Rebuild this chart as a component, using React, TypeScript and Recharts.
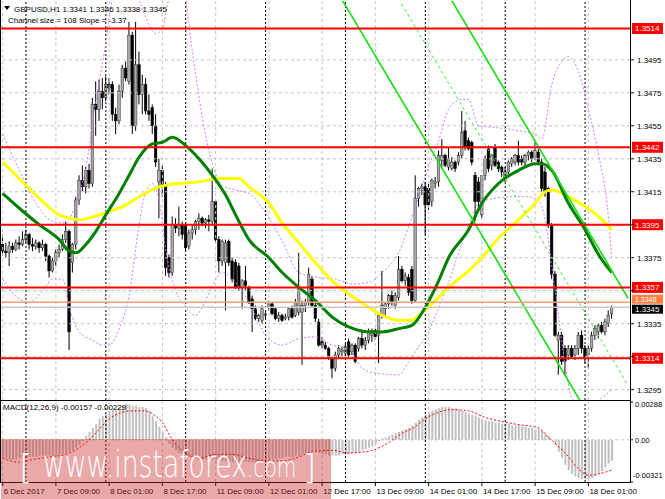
import React from 'react';
import { ComposedChart, Bar, Line, XAxis, YAxis, ReferenceLine } from 'recharts';

// ---- values (pips above 1.3300) ----
const BASE = 1.33;
const PIP = 0.0001;

const opens = [
  83,79,78,82,80,84,83,86,89,83, 82,84,81,83,76,67,73,78,80,86,
  91,72,83,110,122,118,128,120,168,165, 176,172,180,180,162,158,176,190,182,210,
  155,192,174,180,164,166,155,121,128,119, 75,66,95,93,95,95,82,90,92,97,
  99,96,98,97,109,86,73,72,85,73, 72,70,57,61,57,50,44,38,37,40,
  45,47,44,38,40,38,39,44,40,42, 42,46,48,62,46,36,24,22,20,14,
  8,16,18,17,24,18,22,20,26,22, 25,28,31,28,40,44,47,52,46,51,
  68,61,63,68,49,111,117,118,117,109, 120,121,134,137,130,129,133,133,137,152,
  146,145,125,121,101,125,141,131,142,133, 130,123,127,132,133,137,135,133,137,139,
  136,139,133,127,117,95,65,25,28,20, 16,20,16,20,28,20,16,20,28,30,
  34,30,35,41,
];
const highs = [
  89,84,85,84,86,88,91,92,90,87, 86,85,86,84,77,75,80,83,89,97,
  92,84,112,125,131,130,132,172,182,183, 184,185,184,182,166,180,192,194,218,212,
  218,200,186,184,174,168,162,135,131,121, 77,100,99,106,97,96,92,95,98,102,
  100,99,101,129,110,88,86,86,86,75, 74,72,62,70,58,52,46,41,46,42,
  49,48,45,42,41,41,45,46,50,78, 49,50,69,64,48,38,27,24,21,15,
  18,22,21,23,26,23,23,27,30,27, 32,32,32,41,67,48,53,55,54,76,
  70,66,65,70,125,118,120,121,120,123, 124,140,147,138,142,136,134,139,164,158,
  148,146,127,124,124,137,143,138,144,134, 131,130,134,136,138,146,137,138,140,140,
  145,141,135,130,118,96,67,30,30,22, 22,22,22,30,31,22,22,30,34,35,
  36,38,43,46,
];
const lows = [
  76,75,70,78,79,80,82,84,80,79, 80,78,79,73,63,66,70,75,79,84,
  19,66,80,107,115,114,117,118,149,158, 165,170,174,158,150,156,172,182,180,150,
  152,168,162,162,158,150,130,99,112,64, 63,64,90,88,86,79,80,86,89,92,
  94,93,91,95,84,66,70,43,70,60, 56,55,44,55,47,30,37,36,35,38,
  43,40,37,36,36,37,37,38,39,40, 10,42,46,45,36,21,20,19,13,2,
  6,14,15,15,15,16,11,18,20,19, 23,24,25,11,38,40,44,46,44,49,
  60,58,52,47,48,106,113,89,104,106, 117,118,130,130,128,128,127,131,135,140,
  140,131,97,104,99,122,127,128,130,127, 124,121,125,130,131,131,131,131,134,133,
  134,131,115,112,93,62,27,4,10,4, 13,14,13,16,17,11,8,18,25,26,
  29,28,33,38,
];
const closes = [
  79,78,82,80,84,83,86,89,83,82, 84,81,83,76,67,73,78,80,86,91,
  30,83,110,122,118,128,120,168,165,176, 172,180,178,162,158,176,190,184,210,155,
  192,174,180,164,162,155,133,128,119,69, 66,95,93,95,89,81,90,92,97,99,
  96,98,97,109,86,73,85,84,72,62, 57,57,61,58,48,44,38,40,44,41,
  47,41,38,40,37,39,44,39,48,56, 46,48,65,46,38,22,22,20,14,8,
  16,20,19,21,16,22,12,26,22,25, 30,31,27,40,46,47,52,48,52,68,
  61,64,54,49,111,117,118,107,107,122, 121,137,137,131,135,133,129,137,151,142,
  141,133,109,109,125,135,129,137,131,129, 127,127,133,135,137,133,133,137,139,135,
  140,133,117,115,95,65,28,28,12,12, 20,15,20,28,20,14,20,28,32,34,
  30,36,40,45,
];

// moving averages read at sample bars [bar, pips]
const greenMA = [
  [0,114],[5,105],[11,95],[17,86],[20,79],[22,78],[25,83],[28,91],[31,101],[35,114],
  [38,125],[41,136],[45,144],[48,145],[51,148],[55,143],[59,135],[63,125],[67,113],[70,101],
  [74,86],[80,75],[84,66],[89,57],[94,49],[99,39],[104,33],[110,30],[114,30],[119,32],
  [123,34],[127,45],[131,61],[134,75],[140,92],[144,108],[149,120],[155,128],[160,132],[162,132],
  [165,128],[170,108],[175,92],[179,77],[183,66],
];
const yellowMA = [
  [0,133],[5,123],[11,111],[17,101],[20,99],[23,98],[26,99],[29,101],[32,103],[36,106],
  [41,112],[47,118],[53,120],[59,121],[65,123],[71,123],[74,118],[80,108],[84,96],[89,84],
  [94,72],[99,61],[104,53],[110,45],[114,40],[119,37],[123,37],[125,40],[130,49],[134,57],
  [140,67],[144,75],[149,87],[155,98],[160,108],[163,115],[165,116],[170,112],[175,106],[179,100],
  [183,92],
];
// band lines (dotted violet) read at sample bars [bar, pips]
const upperBand = [
  [0,150],[5,128],[10,108],[15,97],[19,96],[22,108],[25,130],[28,170],[31,205],[33,232],
  [38,245],[42,226],[44,216],[46,211],[48,214],[50,232],[54,240],[57,200],[60,160],[63,132],
  [66,119],[70,116],[74,114],[79,102],[84,85],[89,66],[95,63],[100,62],[105,59],[110,60],
  [114,66],[119,78],[124,106],[128,130],[131,146],[134,165],[138,171],[140,171],[143,155],[148,154],
  [155,152],[160,150],[162,147],[165,180],[168,194],[170,197],[173,188],[176,165],[179,138],[182,100],
  [183,75],
];
const lowerBand = [
  [0,62],[5,50],[8,48],[12,55],[15,62],[18,62],[20,45],[23,30],[27,25],[30,22],
  [32,22],[35,32],[38,52],[41,95],[43,115],[45,120],[47,110],[49,80],[52,55],[55,45],
  [58,40],[60,45],[63,58],[66,66],[70,60],[74,48],[79,28],[84,22],[89,26],[94,27],
  [99,22],[104,20],[108,8],[112,5],[119,4],[122,12],[125,21],[128,30],[131,45],[134,60],
  [137,78],[140,95],[143,108],[148,111],[154,112],[158,112],[161,110],[163,98],[165,70],[167,40],
  [169,10],[171,-10],[175,-15],[180,-10],[183,-5],
];

// MACD histogram per bar (x 0.0001) and signal samples
const macdHist = [
  -14,-14,-15,-15,-15,-14,-14,-14,-13,-13,-13,-12,-12,-12,-12,-12,-12,-11,-11,-10,
  -9,-8,-6,-4,-1,3,6,9,12,16, 18,20,22,23,24,25, 26,27,27,26,26,25,25,24,22,
  18,14,10,6,2, -3,-6,-8,-10,-11,-12, -13,-13,-14,-14,-15,-15,-15,-15,-15,-15,
  -16,-16,-17,-17,-17,-17,-17,-17,-17,-17,-17,-17,-16,-16,-16,
  -15,-15,-14,-14,-13,-13,-13,-12,-12, -11,-10,-10,-9,-9,-10,-11,-11,-12,-12,
  -12,-12,-11,-11,-11, -10,-10,-9,-8,-7,-6, -5,-3,-1, 1, 2,3,4,5,6,7,8, 9,11,13,
  15,17,19,21,22,23, 24,25,25,25,24,24,23,22, 21,20,19,18, 17,16,15,14,14,13,13,
  12,12,12,11,11,11,10, 10,9,9,8,8, 7,5,3, 0,
  -4,-9,-14,-19,-23,-26,-28,-29,-30,-30,-30,-29,-28,-26,-24,-21,-18,-16,
];
const macdSignal = [
  [0,-14],[5,-17],[9,-15],[14,-13],[19,-11],[23,-6],[26,0],[29,8],[32,16],[35,20],[38,22],[43,22],
  [46,18],[48,13],[51,0],[55,-10],[59,-14],[64,-11],[69,-11],[74,-14],[79,-16],[84,-16],[89,-13],
  [93,-9],[99,-8],[104,-10],[111,-8],[116,-2],[120,5],[124,10],[127,16],[131,21],[135,23],[140,22],
  [145,17],[150,14],[154,12],[161,9],[164,2],[169,-10],[173,-22],[176,-27],[179,-26],[183,-23],
];

const timeTickBars = [0, 16, 32, 48, 64, 80, 96, 112, 128, 144, 160, 176];
const timeTickLabels = ['6 Dec 2017', '7 Dec 09:00', '8 Dec 01:00', '8 Dec 17:00', '11 Dec 09:00', '12 Dec 01:00',
  '12 Dec 17:00', '13 Dec 09:00', '14 Dec 01:00', '14 Dec 17:00', '15 Dec 09:00', '18 Dec 01:00'];
const daySeparatorBars = [7, 31, 55, 79, 103, 127, 151, 175];
const priceGrid = [1.3295, 1.3315, 1.3335, 1.3355, 1.3375, 1.3395, 1.3415, 1.3435, 1.3455, 1.3475, 1.3495];
const priceTickLabels = [1.3295, 1.3335, 1.3375, 1.3415, 1.3435, 1.3455, 1.3475, 1.3495];
const redLevels = [1.3514, 1.3442, 1.3395, 1.3357, 1.3314];
const orangeLevel = 1.3348;
const bidLevel = 1.3345;
const macdTicks = [0.00288, 0, -0.00321];
const macdTickLabels = ['0.00288', '0.00', '-0.00321'];

// regression channel lines [bar, price]
const channelLines = [
  { from: [100, 1.35382], to: [176, 1.32798], dashed: false },
  { from: [134, 1.35342], to: [188, 1.33502], dashed: false },
  { from: [118, 1.35352], to: [188, 1.32972], dashed: true },
];

// ---- helpers ----
const SLOTS = 189;
const FONT = '"Liberation Sans", Arial, sans-serif';
const px = (p: number) => +(BASE + p * PIP).toFixed(5);
const toMap = (pts: number[][]) => new Map(pts.map(([i, v]) => [i, v]));
const gMap = toMap(greenMA);
const yMap = toMap(yellowMA);
const uMap = toMap(upperBand);
const lMap = toMap(lowerBand);
const sMap = toMap(macdSignal);
const pick = (m: Map<number, number>, i: number) => (m.has(i) ? px(m.get(i) as number) : null);

const mainData = Array.from({ length: SLOTS }, (_, i) => {
  const has = i < closes.length;
  return {
    i,
    range: has ? [px(lows[i]), px(highs[i])] : null,
    o: has ? px(opens[i]) : null,
    h: has ? px(highs[i]) : null,
    l: has ? px(lows[i]) : null,
    c: has ? px(closes[i]) : null,
    green: pick(gMap, i),
    yellow: pick(yMap, i),
    upper: pick(uMap, i),
    lower: pick(lMap, i),
  };
});

const macdData = Array.from({ length: SLOTS }, (_, i) => ({
  i,
  macd: i < macdHist.length ? macdHist[i] * PIP : null,
  sig: sMap.has(i) ? (sMap.get(i) as number) * PIP : null,
}));

const Candle = (props: any) => {
  const { x, y, width, height, payload } = props;
  if (!payload || payload.o == null) return null;
  const { o, h, l, c } = payload;
  const cx = x + width / 2;
  const span = h - l;
  const toY = (v: number) => (span === 0 ? y : y + ((h - v) / span) * height);
  const yo = toY(o);
  const yc = toY(c);
  const top = Math.min(yo, yc);
  const bh = Math.max(Math.abs(yc - yo), 1);
  const bull = c >= o;
  const bw = 2.6;
  return (
    <g>
      <line x1={cx} x2={cx} y1={y} y2={y + height} stroke="#000" strokeWidth={1} />
      <rect x={cx - bw / 2} y={top} width={bw} height={bh} fill={bull ? '#a8a8a8' : '#000'}
        stroke={bull ? '#303030' : '#000'} strokeWidth={0.5} />
    </g>
  );
};

const PriceTick = (props: any) => {
  const { x, y, payload } = props;
  const v = Number(payload.value);
  const show = priceTickLabels.some((p) => Math.abs(p - v) < 1e-7);
  return (
    <g>
      <line x1={x} x2={x + 4} y1={y} y2={y} stroke="#000" strokeWidth={1} />
      {show && <text x={x + 7} y={y + 3} fontSize={8} fontFamily={FONT} fill="#000">{v.toFixed(4)}</text>}
    </g>
  );
};

const MacdTick = (props: any) => {
  const { x, y, payload } = props;
  const k = macdTicks.indexOf(payload.value);
  if (k < 0) return null;
  const dy = k === 0 ? 5 : k === 2 ? -4 : 3;
  const dx = k === 2 ? 3 : 5;
  return (
    <g>
      <line x1={x} x2={x + 3} y1={y} y2={y} stroke="#000" strokeWidth={1} />
      <text x={x + dx} y={y + dy} fontSize={7.5} fontFamily={FONT} fill="#000">{macdTickLabels[k]}</text>
    </g>
  );
};

const TimeTick = (props: any) => {
  const { x, y, payload } = props;
  const k = timeTickBars.indexOf(Number(payload.value));
  if (k < 0) return null;
  return (
    <g>
      <line x1={x} x2={x} y1={y} y2={y + 4} stroke="#000" strokeWidth={1} />
      <text x={x + 1} y={y + 12} fontSize={8} fontFamily={FONT} fill="#000">{timeTickLabels[k]}</text>
    </g>
  );
};

const levelLabel = (text: string, bg: string, fg: string, h = 11, shift = 0, fs = 8) => (props: any) => {
  const vb = props.viewBox || {};
  const right = (vb.x || 0) + (vb.width || 0);
  const y = (vb.y || 0) + shift;
  return (
    <g>
      <rect x={right + 2} y={y - h / 2} width={31} height={h} fill={bg} />
      <text x={right + 5} y={y + fs * 0.37} fontSize={fs} fontFamily={FONT} fill={fg}>{text}</text>
    </g>
  );
};

const gridLinesX = (keyPrefix: string) => [
  ...timeTickBars.map((b) => (
    <ReferenceLine key={`${keyPrefix}g${b}`} x={b} stroke="#c4c4c4" strokeDasharray="3 3" strokeWidth={1} />
  )),
  ...daySeparatorBars.map((b) => (
    <ReferenceLine key={`${keyPrefix}d${b}`} x={b} stroke="#000" strokeDasharray="2 2" strokeWidth={1} />
  )),
];

export default function App() {
  return (
    <div style={{ position: 'absolute', left: 0, top: 0, width: 665, height: 499, background: '#fff', overflow: 'hidden' }}>
      <div style={{ position: 'absolute', left: 0, top: 0 }}>
        <ComposedChart width={665} height={401} data={mainData} margin={{ top: 1, right: 0, bottom: 1, left: 1 }} barCategoryGap={0}>
          <XAxis dataKey="i" hide />
          <YAxis orientation="right" type="number" domain={[1.32887, 1.35307]} allowDataOverflow ticks={priceGrid} interval={0}
            width={35} axisLine={false} tickLine={false} tickSize={0} tickMargin={0} tick={<PriceTick />} />
          {priceGrid.map((p) => (
            <ReferenceLine key={`h${p}`} y={p} stroke="#c4c4c4" strokeDasharray="3 3" strokeWidth={1} />
          ))}
          {gridLinesX('m')}
          <Bar dataKey="range" barSize={3} shape={<Candle />} isAnimationActive={false} />
          <Line dataKey="upper" type="monotone" stroke="#c084f5" strokeWidth={1} strokeDasharray="2 2" dot={false} connectNulls isAnimationActive={false} />
          <Line dataKey="lower" type="monotone" stroke="#c084f5" strokeWidth={1} strokeDasharray="2 2" dot={false} connectNulls isAnimationActive={false} />
          <Line dataKey="yellow" type="monotone" stroke="#ffff00" strokeWidth={3} dot={false} connectNulls isAnimationActive={false} />
          <Line dataKey="green" type="monotone" stroke="#008000" strokeWidth={3} dot={false} connectNulls isAnimationActive={false} />
          {channelLines.map((s, k) => (
            <ReferenceLine key={`ch${k}`} ifOverflow="hidden"
              segment={[{ x: s.from[0], y: s.from[1] }, { x: s.to[0], y: s.to[1] }]}
              stroke={s.dashed ? '#33ee33' : '#11e011'} strokeWidth={s.dashed ? 1 : 1.6}
              strokeDasharray={s.dashed ? '3 3' : undefined} />
          ))}
          {redLevels.map((p) => (
            <ReferenceLine key={`r${p}`} y={p} stroke="#ff0000" strokeWidth={2}
              label={levelLabel(p.toFixed(4), '#ff0000', '#ffffff')} />
          ))}
          <ReferenceLine y={orangeLevel} stroke="#ffa07a" strokeWidth={1.5}
            label={levelLabel(orangeLevel.toFixed(4), '#ff7f40', '#ffffff', 9, -3, 7)} />
          <ReferenceLine y={bidLevel} stroke="#c8c8c8" strokeWidth={1.5}
            label={levelLabel(bidLevel.toFixed(4), '#000000', '#ffffff', 9, 2, 8)} />
        </ComposedChart>
      </div>
      <div style={{ position: 'absolute', left: 0, top: 401 }}>
        <ComposedChart width={665} height={98} data={macdData} margin={{ top: 1, right: 0, bottom: 0, left: 1 }} barCategoryGap={0}>
          <XAxis dataKey="i" ticks={timeTickBars} interval={0} height={17} axisLine={false} tickLine={false}
            tickSize={0} tickMargin={0} tick={<TimeTick />} />
          <YAxis orientation="right" type="number" domain={[-0.00321, 0.00288]} allowDataOverflow ticks={macdTicks} interval={0}
            width={35} axisLine={false} tickLine={false} tickSize={0} tickMargin={0} tick={<MacdTick />} />
          <ReferenceLine y={0} stroke="#c4c4c4" strokeDasharray="3 3" strokeWidth={1} />
          {gridLinesX('s')}
          <Bar dataKey="macd" barSize={2} fill="#c0c0c0" isAnimationActive={false} />
          <Line dataKey="sig" type="monotone" stroke="#ff0000" strokeWidth={1} strokeDasharray="2 2" dot={false} connectNulls isAnimationActive={false} />
        </ComposedChart>
      </div>
      {/* window frames */}
      <div style={{ position: 'absolute', left: 0, top: 0, width: 1, height: 483, background: '#000' }} />
      <div style={{ position: 'absolute', left: 630, top: 0, width: 1, height: 483, background: '#000' }} />
      <div style={{ position: 'absolute', left: 0, top: 400, width: 631, height: 1, background: '#000' }} />
      <div style={{ position: 'absolute', left: 0, top: 482, width: 631, height: 1, background: '#000' }} />
      <svg width={665} height={499} style={{ position: 'absolute', left: 0, top: 0, pointerEvents: 'none' }}>
        <path d="M4 6 L10 6 L7 10 Z" fill="#000" />
        <text x={14} y={12} fontSize={8} fontFamily={FONT} fill="#000">GBPUSD,H1  1.3341 1.3346 1.3338 1.3345</text>
        <text x={8} y={23} fontSize={8} fontFamily={FONT} fill="#000">Channel size = 108 Slope = -3.37</text>
        <text x={3} y={410} fontSize={8} fontFamily={FONT} fill="#000">MACD(12,26,9) -0.00157 -0.00229</text>
        <rect x={1} y={439} width={330} height={60} fill="rgba(200,40,40,0.4)" />
        <g fill="#ffffff" fontFamily='"DejaVu Sans", sans-serif' fontWeight={200}>
          <text x={19} y={479} fontSize={34}>[</text>
          <text x={303} y={479} fontSize={34}>]</text>
          <g transform="translate(43,477) scale(0.72,1)">
            <text x={0} y={0} fontSize={37}>www.instaforex<tspan fontSize={28}>.com</tspan></text>
          </g>
        </g>
      </svg>
    </div>
  );
}
